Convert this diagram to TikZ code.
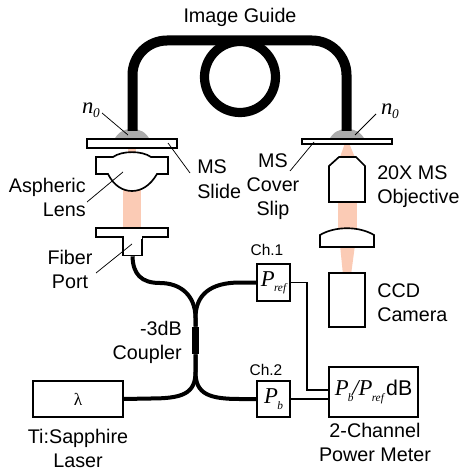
\documentclass[tikz,border=0pt]{standalone}
\usepackage{fontspec}
\setmainfont{Liberation Sans}
\newfontfamily\srf{Liberation Serif}
\newcommand{\symP}[1]{{\srf\itshape\fontsize{17}{18}\selectfont P\kern-0.5pt\raisebox{-4pt}{\fontsize{8.5}{9}\selectfont #1}}}
\newcommand{\nzero}{{\srf\itshape\fontsize{17}{18}\selectfont n\kern-0.3pt\raisebox{-3.2pt}{\fontsize{10}{10}\selectfont 0}}}
\definecolor{beam}{HTML}{FBCBB5}
\definecolor{gel}{HTML}{ABABAB}
\tikzset{
  x=0.75pt,y=-0.75pt,
  lbl/.style={inner sep=0pt,font=\fontsize{14.8}{18}\selectfont},
  chlbl/.style={inner sep=0pt,anchor=base,font=\fontsize{11.6}{14}\selectfont},
  outline/.style={draw=black,line width=1.25pt,fill=white,line join=miter},
  leader/.style={draw=black,line width=0.55pt},
  fiber/.style={draw=black,line width=3pt},
  guide/.style={draw=black,line width=7.5pt},
  wire/.style={draw=black,line width=1.25pt},
  beamfill/.style={fill=beam,draw=none},
  gelfill/.style={fill=gel,draw=none},
}
\begin{document}
\begin{tikzpicture}
\useasboundingbox (0,0) rectangle (460,470);
% beams
\fill[beamfill] (128,146) rectangle (136,160);
\fill[beamfill] (123,185) rectangle (141,230);
\fill[beamfill] (345,143) -- (349,143) -- (356,160) -- (339,160) -- cycle;
\fill[beamfill] (338,200) rectangle (357,230);
\fill[beamfill] (340,245) -- (355,245) -- (351,275) -- (343,275) -- cycle;
% index-matching gel
\fill[gelfill] (114,140) .. controls (118,132) and (124,129) .. (132,129) .. controls (140,129) and (146,132) .. (150,140) -- cycle;
\fill[gelfill] (329,140) .. controls (333,132) and (339,129) .. (347,129) .. controls (355,129) and (361,132) .. (365,140) -- cycle;
% image guide
\coordinate (gl) at (132.5,131);
\coordinate (gr) at (346.5,131);
\coordinate (gm) at (240,40.5);
\draw[guide] (gl) -- (132.5,75) arc[start angle=180,end angle=90,radius=34.5*0.75pt] -- (gm) -- (312,40.5) arc[start angle=90,end angle=0,radius=34.5*0.75pt] -- (gr);
\draw[guide,line width=6.9pt] (240,77) circle[radius=35.5*0.75pt];
% slides
\node[outline,inner sep=0pt,minimum width=67.5pt,minimum height=6.75pt] (slide) at (132,143.5) {};
\node[outline,inner sep=0pt,minimum width=67.5pt,minimum height=3.6pt] (slip) at (347,141.5) {};
% aspheric lens
\draw[outline] (96,157) -- (113,157) .. controls (122,150.5) and (142,150.5) .. (151,157) -- (168,157) -- (168,174) -- (157,174) .. controls (150,186) and (141,191) .. (132,191) .. controls (123,191) and (114,186) .. (108,174) -- (96,174) -- cycle;
\coordinate (alens) at (123,172);
% fibre port
\node[outline,inner sep=0pt,minimum width=14.25pt,minimum height=17.25pt] (stem) at (132.5,244) {};
\node[outline,inner sep=0pt,minimum width=54pt,minimum height=6.75pt] (plate) at (132,232.5) {};
\fill[white] (124,236) rectangle (141.5,239);
% objective
\draw[outline] (329,166) -- (339,157) -- (356,157) -- (365,166) -- (365,202) -- (329,202) -- cycle;
% tube lens
\draw[outline] (320,247) -- (320,235) .. controls (335,226) and (359,226) .. (374,235) -- (374,247) -- cycle;
% CCD
\node[outline,inner sep=0pt,minimum width=27pt,minimum height=40.5pt] (ccd) at (347,300) {};
% coupler
\node[fill=black,draw=none,inner sep=0pt,minimum width=5.25pt,minimum height=20.25pt] (coupler) at (195.5,340.5) {};
% boxes
\node[outline,inner sep=0pt,minimum width=67.5pt,minimum height=27pt] (laser) at (78,399) {\srf\fontsize{13}{14}\selectfont λ};
\node[outline,inner sep=0pt,minimum width=24.75pt,minimum height=27.75pt] (pref) at (273.5,282.5) {\symP{ref}};
\node[outline,inner sep=0pt,minimum width=24.75pt,minimum height=27pt] (pb) at (273.5,399) {\symP{b}};
\node[outline,inner sep=0pt,minimum width=66.75pt,minimum height=37.5pt] (meter) at (373.5,392) {\symP{b}{\srf\itshape\fontsize{17}{18}\selectfont\kern-1pt/}\symP{ref}\,{\fontsize{16}{18}\selectfont dB}};
% fibres
\draw[fiber] (stem.south) .. controls (133,274) and (141,283) .. (160,283) .. controls (180,283) and (195.5,295) .. (195.5,318) -- (coupler.north);
\draw[fiber] (pref.west) -- (240,282.5) .. controls (210,282.5) and (195.5,295) .. (195.5,318) -- (coupler.north);
\draw[fiber] (laser.east) -- (150,398.5) .. controls (182,398.5) and (195.5,394) .. (195.5,372) -- (coupler.south);
\draw[fiber] (pb.west) -- (240,399) .. controls (209,399) and (195.5,394) .. (195.5,372) -- (coupler.south);
% wires
\coordinate (merefin) at (329,390);
\coordinate (mbin) at (329,399);
\draw[wire] (pref.east) -| (307,390) -- (merefin);
\draw[wire] (pb.east) -- (mbin);
% leaders
\node[inner sep=0pt] (nl) at (91,110) {\nzero};
\node[inner sep=0pt] (nr) at (390,111) {\nzero};
\coordinate (nlf) at (102,113); \coordinate (nlt) at (128,135);
\coordinate (nrf) at (376,114); \coordinate (nrt) at (355,135);
\draw[leader] (nlf) -- (nlt);
\draw[leader] (nrf) -- (nrt);
\coordinate (msa) at (168,143); \coordinate (msb) at (190,173);
\draw[leader] (msa) -- (msb);
\coordinate (csa) at (314,142); \coordinate (csb) at (290,171);
\draw[leader] (csa) -- (csb);
\coordinate (asb) at (87,202);
\draw[leader] (alens) -- (asb);
\coordinate (fpa) at (132,244); \coordinate (fpb) at (96,273);
\draw[leader] (fpa) -- (fpb);
% labels
\node[lbl,anchor=base] (t1) at (240,23) {Image Guide};
\node[lbl,anchor=base west,align=left] (t2) at (197,198) {MS\\Slide};
\node[lbl,anchor=base,align=center] (t3) at (273,215) {MS\\Cover\\Slip};
\node[lbl,anchor=base west,align=left] (t4) at (377,204) {20X MS\\Objective};
\node[lbl,anchor=base east,align=right] (t5) at (86,216) {Aspheric\\Lens};
\node[lbl,anchor=base,align=center] (t6) at (70,288) {Fiber\\Port};
\node[lbl,anchor=base east,align=right] (t7) at (182,359) {-3dB\\Coupler};
\node[lbl,anchor=base west,align=left] (t8) at (377,321) {CCD\\Camera};
\node[lbl,anchor=base,align=center] (t9) at (78,467) {Ti:Sapphire\\Laser};
\node[lbl,anchor=base,align=center] (t10) at (375,461) {2-Channel\\Power Meter};
\node[chlbl] (c1) at (267,255) {Ch.1};
\node[chlbl] (c2) at (266,375) {Ch.2};
\end{tikzpicture}
\end{document}
